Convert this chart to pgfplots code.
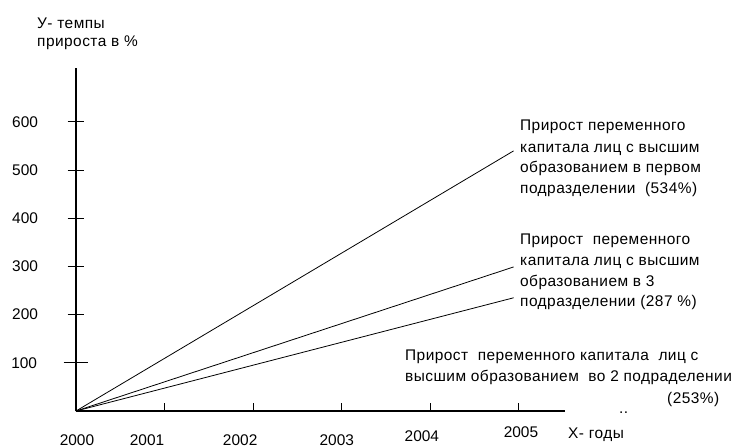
\documentclass[border=0pt]{standalone}
\usepackage{fontspec}
\setmainfont{Liberation Sans}
\newfontfamily\lsfont[LetterSpace=3]{Liberation Sans}
\usepackage{pgfplots}
\pgfplotsset{compat=1.18}
\newcommand\lf{\fontsize{15.5}{18}\selectfont}
\begin{document}
\begin{tikzpicture}
\begin{axis}[
  at={(0,0)}, anchor=south west, scale only axis,
  width=489bp, height=343bp,
  xmin=2000, xmax=2005.52, ymin=0, ymax=712,
  axis lines=left, axis line style={-, line width=1.1bp, black},
  tick align=center, major tick length=17bp,
  tick style={black, line width=1bp},
  xtick={2000,2001,2002,2003,2004,2005},
  xtick style={/pgfplots/major tick length=8bp, yshift=4bp},
  xticklabels={
    {\makebox[0pt]{\kern2bp 2000}},
    {\raisebox{0bp}{\makebox[0pt]{\kern-35bp 2001}}},
    {\raisebox{0bp}{\makebox[0pt]{\kern-26bp 2002}}},
    {\raisebox{0bp}{\makebox[0pt]{\kern-10bp 2003}}},
    {\raisebox{4bp}{\makebox[0pt]{\kern-17bp 2004}}},
    {\raisebox{8bp}{\makebox[0pt]{\kern4bp 2005}}}},
  xticklabel style={anchor=base, yshift=-26bp, font=\lf},
  ytick={200,300,400,500,600},
  extra y ticks={100},
  extra tick style={/pgfplots/major tick length=25bp},
  extra y tick style={yticklabel style={xshift=3bp}},
  yticklabel style={anchor=east, xshift=-26bp, font=\lf},
  /pgf/number format/assume math mode=true,
  clip=false,
]
\addplot[black, line width=0.8bp] coordinates {(2000,0) (2004.94,540)};
\addplot[black, line width=0.8bp] coordinates {(2000,0) (2004.94,299)};
\addplot[black, line width=0.8bp] coordinates {(2000,0) (2004.94,235)};
\end{axis}
\pgfresetboundingbox
\path (-76bp,-37bp) rectangle (660bp,411bp);
\begin{scope}[shift={(-76bp,411bp)}, x=1bp, y=-1bp, every node/.style={anchor=base west, inner sep=0pt, font=\lsfont\lf}]
\node at (37,29) {У- темпы};
\node at (37,47) {прироста в \%};
\node at (520,131) {Прирост переменного};
\node at (520,153) {капитала лиц с высшим};
\node at (520,173) {образованием в первом};
\node at (520,194) {подразделении\ \ (534\%)};
\node at (520,245) {Прирост\ \ переменного};
\node at (520,266) {капитала лиц с высшим};
\node at (520,287) {образованием в 3};
\node at (520,307) {подразделении (287 \%)};
\node at (405,361) {Прирост\ \ переменного капитала\ \ лиц с};
\node at (405,382) {высшим образованием\ \ во 2 подраделении};
\node at (667,404) {(253\%)};
\node at (619,414) {..};
\node at (568,439) {Х- годы};
\end{scope}
\end{tikzpicture}
\end{document}
